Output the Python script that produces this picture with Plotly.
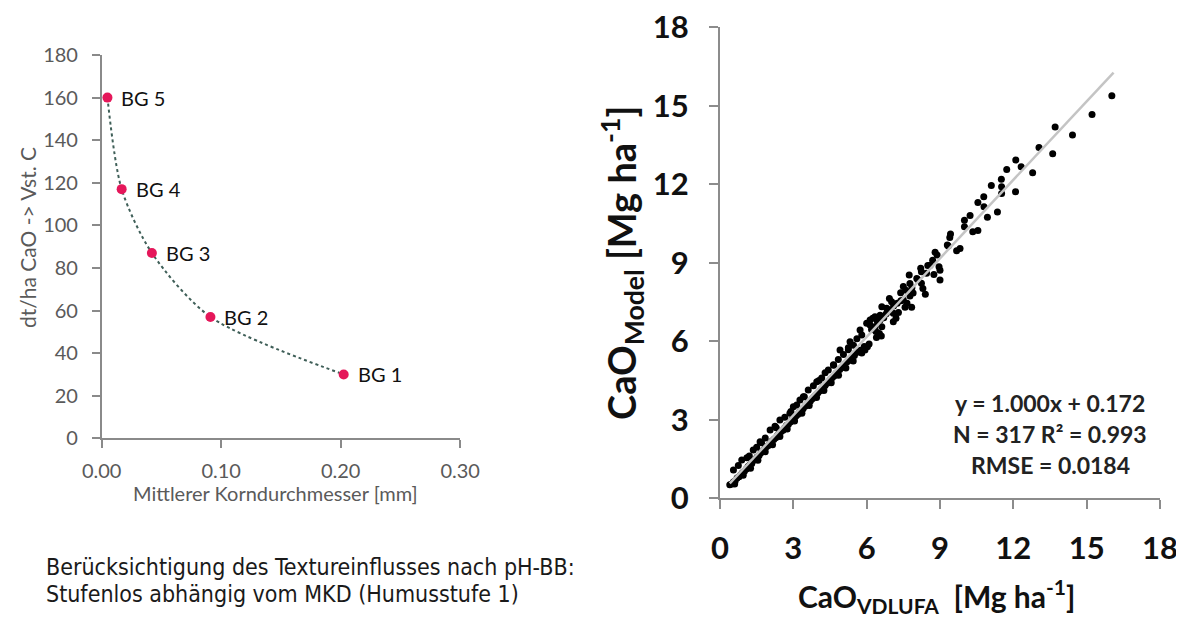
import plotly.graph_objects as go

# ---------------- Left chart data ----------------
bg_labels = ["BG 5", "BG 4", "BG 3", "BG 2", "BG 1"]
mkd_mm = [0.0048, 0.0167, 0.042, 0.091, 0.2025]
cao_dt = [160, 117, 87, 57, 30]
left_yticks = [0, 20, 40, 60, 80, 100, 120, 140, 160, 180]
left_xticks = [0.0, 0.1, 0.2, 0.3]

# ---------------- Right chart data ----------------
vdlufa = [
    0.40, 0.48, 0.55, 0.62, 0.70, 0.78, 0.85, 0.92, 1.00, 1.08, 1.15, 1.22, 1.30, 1.38, 1.45, 1.52,
    1.60, 1.68, 1.75, 1.83, 1.90, 1.98, 2.05, 2.12, 2.20, 2.28, 2.35, 2.42, 2.50, 2.58, 2.65, 2.72,
    2.80, 2.88, 2.95, 3.02, 3.10, 3.18, 3.25, 3.32, 3.40, 3.48, 3.55, 3.62, 3.70, 3.78, 3.85, 3.92,
    4.00, 4.08, 4.15, 4.22, 4.30, 4.38, 4.45, 4.52, 4.60, 4.68, 4.75, 4.82, 4.90, 4.98, 5.05, 5.12,
    5.20, 5.30, 5.40, 5.50, 5.62, 5.75, 5.90,
    0.60, 0.95, 1.25, 1.55, 1.85, 2.15, 2.45, 2.75, 3.05, 3.35, 3.65, 3.95, 4.25, 4.55, 4.85, 5.15,
    5.45, 5.80, 6.10, 6.40, 6.60,
    0.55, 0.75, 0.89, 1.10, 1.36, 1.50, 1.64, 1.85, 2.05, 2.25, 2.45, 2.65, 2.86, 3.00, 3.14, 3.27,
    3.41, 3.61, 3.82, 3.96, 4.16, 4.30, 4.43, 4.64, 4.84, 4.91, 5.05, 5.25, 5.32, 5.46, 5.60, 5.73,
    5.80, 6.00, 6.14, 6.25, 6.34, 6.44, 6.55, 6.62, 6.82, 6.93, 7.02,
    6.03, 5.93, 6.38, 6.52, 6.14, 6.55, 6.62, 6.34, 7.09, 7.20, 7.09, 7.57, 7.84, 7.50, 7.77, 7.39,
    7.50, 7.77, 7.74, 8.21, 8.24, 8.24, 8.30, 8.60, 8.96, 9.00, 9.00, 8.80, 8.88, 9.30, 9.43, 9.68,
    9.34, 9.40, 9.82, 10.00, 10.00, 10.23, 10.34, 10.55, 10.55, 10.79, 10.80, 10.94, 11.35, 11.10,
    11.52, 11.52, 11.51, 12.09, 11.73, 12.10, 12.32, 12.79, 13.05, 13.61, 13.71, 14.42, 15.22, 16.03,
    6.20, 6.70, 6.80, 6.95, 7.10, 7.25, 7.30, 7.40, 7.60, 7.65, 7.85, 7.90, 8.05, 8.10, 8.40, 8.45,
    8.50, 8.70, 8.75,
    1.20, 1.70, 2.30, 2.90, 3.45, 4.05, 4.65, 5.25,
]
model = [
    0.52, 0.55, 0.62, 0.66, 0.78, 0.82, 0.90, 0.98, 1.03, 1.12, 1.22, 1.27, 1.33, 1.45, 1.50, 1.58,
    1.64, 1.74, 1.80, 1.88, 1.97, 2.02, 2.10, 2.18, 2.25, 2.31, 2.40, 2.48, 2.55, 2.60, 2.70, 2.78,
    2.83, 2.92, 3.00, 3.05, 3.14, 3.20, 3.30, 3.36, 3.42, 3.52, 3.58, 3.66, 3.72, 3.80, 3.88, 3.95,
    4.02, 4.10, 4.18, 4.25, 4.31, 4.40, 4.46, 4.55, 4.62, 4.68, 4.78, 4.84, 4.92, 5.00, 5.06, 5.14,
    5.22, 5.28, 5.38, 5.46, 5.58, 5.66, 5.80,
    0.55, 0.88, 1.15, 1.45, 1.78, 2.05, 2.36, 2.65, 2.95, 3.25, 3.55, 3.85, 4.12, 4.42, 4.70, 4.98,
    5.25, 5.55, 5.90, 6.15, 6.20,
    1.08, 1.25, 1.46, 1.55, 1.85, 1.95, 2.16, 2.30, 2.61, 2.75, 2.99, 3.10, 3.25, 3.50, 3.57, 3.76,
    3.88, 4.14, 4.30, 4.45, 4.60, 4.80, 4.90, 5.10, 5.30, 5.67, 5.50, 5.75, 5.98, 5.85, 6.10, 6.43,
    6.24, 6.69, 6.62, 6.88, 6.94, 6.75, 7.00, 7.32, 7.26, 7.64, 7.51,
    5.79, 5.67, 6.37, 6.30, 6.81, 6.81, 6.56, 6.56, 7.07, 6.88, 6.75, 7.30, 7.30, 7.58, 7.73, 7.86,
    8.09, 8.21, 8.53, 8.79, 8.66, 8.22, 8.02, 8.91, 8.85, 8.72, 8.34, 9.40, 9.30, 9.68, 10.10, 9.46,
    9.64, 9.97, 9.55, 10.63, 10.38, 10.81, 10.19, 10.23, 11.30, 11.52, 11.14, 10.74, 10.94, 11.95,
    11.91, 11.65, 12.19, 11.72, 12.57, 12.93, 12.67, 12.44, 13.41, 13.17, 14.19, 13.88, 14.67, 15.38,
    6.45, 6.90, 7.05, 7.20, 7.35, 7.45, 7.10, 7.55, 7.95, 7.45, 8.05, 7.85, 8.40, 8.35, 7.80, 8.60,
    8.90, 9.10, 8.55,
    1.62, 2.12, 2.70, 3.32, 3.88, 4.50, 5.08, 5.68,
]
fit_x = [0.40, 16.10]
fit_y = [0.57, 16.27]
right_ticks = [0, 3, 6, 9, 12, 15, 18]
stats_lines = ["y = 1.000x + 0.172", "N = 317 R² = 0.993", "RMSE = 0.0184"]

# The page body has an 8px margin; size the figure so it fits the 1184x618 window
OFF = 8
W, H = 1184 - OFF, 618 - OFF
def px(x):
    return (x - OFF) / W
def py(y):
    return 1 - (y - OFF) / H

fig = go.Figure()

# Left chart
fig.add_trace(go.Scatter(
    x=mkd_mm, y=cao_dt, mode="lines", line=dict(color="#3f5f58", width=2, dash="dot", shape="spline", smoothing=0.8),
    xaxis="x", yaxis="y", showlegend=False, hoverinfo="skip"))
fig.add_trace(go.Scatter(
    x=mkd_mm, y=cao_dt, mode="markers", marker=dict(color="#e5175a", size=10),
    xaxis="x", yaxis="y", showlegend=False))

# Right chart
fig.add_trace(go.Scatter(
    x=vdlufa, y=model, mode="markers", marker=dict(color="#000000", size=7),
    xaxis="x2", yaxis="y2", showlegend=False))
fig.add_trace(go.Scatter(
    x=fit_x, y=fit_y, mode="lines", line=dict(color="#c4c4c4", width=2.5),
    xaxis="x2", yaxis="y2", showlegend=False, hoverinfo="skip"))

left_axis_common = dict(showgrid=False, zeroline=False, showline=True, linecolor="#8a8a8a", linewidth=1.5,
                        ticks="outside", ticklen=8, tickcolor="#8a8a8a", tickwidth=1.5, automargin=False,
                        ticklabeloverflow="allow",
                        tickfont=dict(family="Lato", size=20, color="#5a5a5a"))
right_axis_common = dict(showgrid=False, zeroline=False, showline=True, linecolor="#8c8c8c", linewidth=2,
                         ticks="outside", ticklen=9, tickcolor="#8c8c8c", tickwidth=2, automargin=False,
                         ticklabeloverflow="allow",
                         tickfont=dict(family="Lato", size=31, color="#111111", weight="bold"))

fig.update_layout(
    width=W, height=H, margin=dict(l=0, r=0, t=0, b=0, autoexpand=False),
    paper_bgcolor="white", plot_bgcolor="white",
    xaxis=dict(domain=[px(101.7), px(460.2)], range=[0, 0.30], tickvals=left_xticks, tickformat=".2f",
               anchor="y", ticklabelstandoff=6, **left_axis_common),
    yaxis=dict(domain=[py(438.3), py(55)], range=[0, 180], tickvals=left_yticks, anchor="x",
               ticklabelstandoff=10, **left_axis_common),
    xaxis2=dict(domain=[px(720), px(1160)], range=[0, 18], tickvals=right_ticks, anchor="y2",
                ticklabelstandoff=12, **right_axis_common),
    yaxis2=dict(domain=[py(498.3), py(27.3)], range=[0, 18], tickvals=right_ticks, anchor="x2",
                ticklabelstandoff=14, **right_axis_common),
)

annotations = []
for lab, xv, yv in zip(bg_labels, mkd_mm, cao_dt):
    annotations.append(dict(x=xv, y=yv, xref="x", yref="y", text=lab, showarrow=False, xanchor="left",
                            yanchor="middle", xshift=12, font=dict(family="Lato", size=20, color="#111111")))
common = dict(xref="paper", yref="paper", showarrow=False, yanchor="middle")
annotations += [
    dict(x=px(28), y=py(238), text="dt/ha CaO -> Vst. C", textangle=-90, xanchor="center",
         font=dict(family="Lato", size=21, color="#5a5a5a"), **common),
    dict(x=px(275), y=py(493), text="Mittlerer Korndurchmesser [mm]", xanchor="center",
         font=dict(family="Lato", size=20, color="#5a5a5a"), **common),
    dict(x=px(44), y=py(567), xanchor="left",
         text="Berücksichtigung des Textureinflusses nach pH-BB:",
         font=dict(family="DejaVu Sans Condensed", size=23, color="#1a1a1a"), **common),
    dict(x=px(44), y=py(594), xanchor="left",
         text="Stufenlos abhängig vom MKD (Humusstufe 1)",
         font=dict(family="DejaVu Sans Condensed", size=23, color="#1a1a1a"), **common),
    dict(x=px(622), y=py(263), textangle=-90, xanchor="center",
         text="CaO<sub>Model</sub> [Mg ha<sup>-1</sup>]",
         font=dict(family="Lato", size=38, color="#111111", weight="bold"), **common),
    dict(x=px(936), y=py(596), xanchor="center",
         text="CaO<sub>VDLUFA</sub>  [Mg ha<sup>-1</sup>]",
         font=dict(family="Lato", size=30, color="#111111", weight="bold"), **common),
]
for line, yy in zip(stats_lines, [403, 434, 465]):
    annotations.append(dict(x=px(1050), y=py(yy), text=line, xanchor="center",
                            font=dict(family="Lato", size=23, color="#222222", weight="bold"), **common))
fig.update_layout(annotations=annotations)

fig.write_html("out.html")
